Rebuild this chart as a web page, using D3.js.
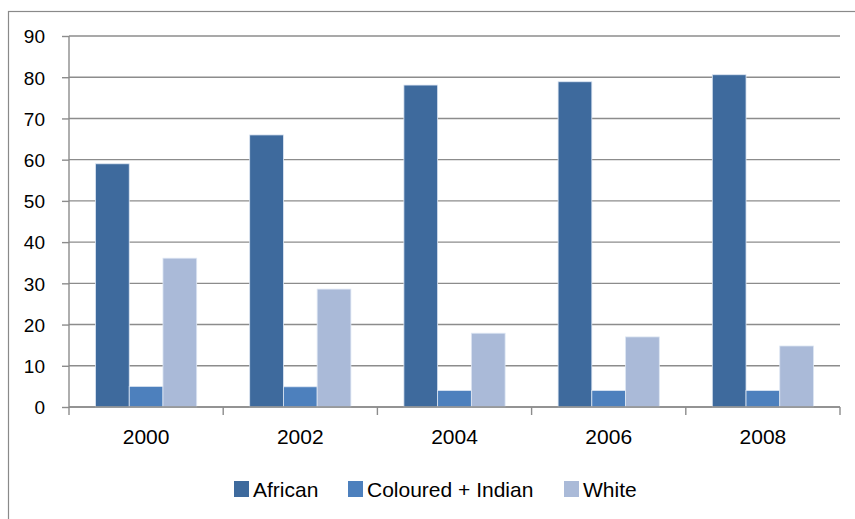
<!DOCTYPE html>
<html>
<head>
<meta charset="utf-8">
<script src="https://cdn.jsdelivr.net/npm/d3@7"></script>
<style>
  body { margin: 0; background: #fff; }
  svg text { font-family: "Liberation Sans", Arial, sans-serif; fill: #000; }
</style>
</head>
<body>
<div id="chart"></div>
<script>
// categories and series
const years = ["2000", "2002", "2004", "2006", "2008"];
const seriesNames = ["African", "Coloured + Indian", "White"];
const african = [59.0, 66.0, 78.1, 78.9, 80.6];
const colouredIndian = [5.0, 4.9, 4.0, 4.0, 4.0];
const white = [36.1, 28.6, 17.9, 17.0, 14.8];
const yTicks = [0, 10, 20, 30, 40, 50, 60, 70, 80, 90];

const colors = ["#3e6a9d", "#4d80bd", "#aabad8"];
const seriesValues = [african, colouredIndian, white];

const W = 855, H = 519;
const margin = { top: 36, right: 15, bottom: 112, left: 69 };
const width = 840 - margin.left, height = 407 - margin.top;

const svg = d3.select("#chart").append("svg")
  .attr("width", W).attr("height", H);

// outer chart border (runs off the right / bottom edge)
svg.append("rect")
  .attr("x", 8.5).attr("y", 11.5)
  .attr("width", 900).attr("height", 600)
  .attr("fill", "none").attr("stroke", "#8a8a8a").attr("stroke-width", 1.2);

const g = svg.append("g").attr("transform", `translate(${margin.left},${margin.top})`);

const x0 = d3.scaleBand().domain(years).range([0, width]).paddingInner(0).paddingOuter(0);
const x1 = d3.scaleBand().domain(seriesNames).range([26.5, x0.bandwidth() - 26.5]).padding(0);
const y = d3.scaleLinear().domain([0, 90]).range([height, 0]);

// gridlines
g.append("g")
  .selectAll("line")
  .data(yTicks)
  .join("line")
  .attr("x1", 0).attr("x2", width)
  .attr("y1", d => y(d)).attr("y2", d => y(d))
  .attr("stroke", "#8c8c8c").attr("stroke-width", 1.4);

// bars
const groups = g.append("g")
  .selectAll("g")
  .data(years)
  .join("g")
  .attr("transform", d => `translate(${x0(d)},0)`);

groups.selectAll("rect")
  .data((d, i) => seriesNames.map((s, j) => ({ s: s, v: seriesValues[j][i], j: j })))
  .join("rect")
  .attr("x", d => x1(d.s))
  .attr("y", d => y(d.v))
  .attr("width", x1.bandwidth())
  .attr("height", d => y(0) - y(d.v))
  .attr("fill", d => colors[d.j])
  .attr("stroke", "#dde6f3").attr("stroke-width", 0.8);

// y axis
const yAxis = g.append("g")
  .call(d3.axisLeft(y).tickValues(yTicks).tickSize(7).tickPadding(17));
yAxis.select(".domain").attr("stroke", "#8c8c8c").attr("stroke-width", 1.4).attr("d", `M-0,${height}V0`);
yAxis.selectAll(".tick line").attr("stroke", "#8c8c8c").attr("stroke-width", 1.4);
yAxis.selectAll("text").style("font-size", "19px").attr("dy", "0.36em");

// x axis
const xAxis = g.append("g")
  .attr("transform", `translate(0,${height})`)
  .call(d3.axisBottom(x0).tickSize(0).tickPadding(22));
xAxis.select(".domain").attr("stroke", "#8c8c8c").attr("stroke-width", 1.4).attr("d", `M0,0H${width}`);
xAxis.selectAll("text").style("font-size", "21px").attr("dy", "0.71em");

// category boundary ticks
g.append("g")
  .selectAll("line")
  .data(d3.range(years.length + 1))
  .join("line")
  .attr("x1", i => i * x0.step()).attr("x2", i => i * x0.step())
  .attr("y1", height).attr("y2", height + 8)
  .attr("stroke", "#8c8c8c").attr("stroke-width", 1.4);

// legend
const legendX = [234, 348, 564];
const legend = svg.append("g")
  .selectAll("g")
  .data(seriesNames)
  .join("g")
  .attr("transform", (d, i) => `translate(${legendX[i]},481)`);
legend.append("rect")
  .attr("width", 15).attr("height", 16)
  .attr("fill", (d, i) => colors[i]);
legend.append("text")
  .attr("x", 19).attr("y", 16)
  .style("font-size", "21px")
  .text(d => d);
</script>
</body>
</html>
